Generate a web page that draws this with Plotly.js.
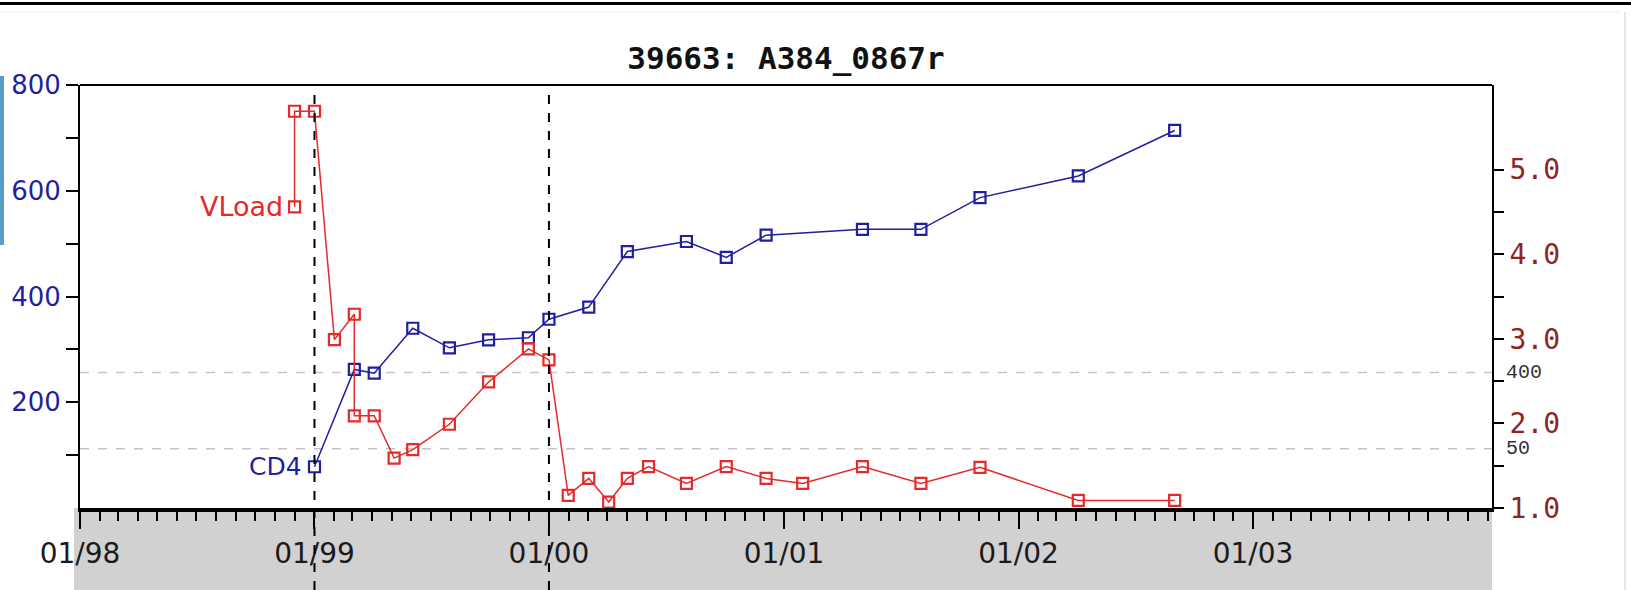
<!DOCTYPE html>
<html>
<head>
<meta charset="utf-8">
<script src="https://cdn.plot.ly/plotly-3.0.1.min.js"></script>
<style>
  html, body { margin: 0; padding: 0; background: #ffffff; }
  #chart { width: 1631px; height: 590px; }
</style>
</head>
<body>
<div id="chart"></div>
<script>
// ---- data ----
const chartTitle = "39663: A384_0867r";

const cd4Dates = ['1999-01-01','1999-03-04','1999-04-04','1999-06-03','1999-07-30','1999-09-29',
  '1999-11-30','2000-01-01','2000-03-03','2000-05-02','2000-08-02','2000-10-03','2000-12-04',
  '2001-05-03','2001-08-02','2001-11-02','2002-04-04','2002-09-01'];
const cd4Values = [78, 262, 255, 340, 303, 318, 322, 357, 380, 485, 504, 474, 516, 527, 527, 587, 628, 714];

const vloadDates = ['1998-12-01','1998-12-01','1999-01-01','1999-02-01','1999-03-04','1999-03-04',
  '1999-04-04','1999-05-05','1999-06-03','1999-07-30','1999-09-29','1999-11-30','2000-01-01',
  '2000-01-31','2000-03-03','2000-04-03','2000-05-02','2000-06-04','2000-08-02','2000-10-03',
  '2000-12-04','2001-01-30','2001-05-03','2001-08-02','2001-11-02','2002-04-04','2002-09-01'];
const vloadLog = [4.56, 5.69, 5.69, 2.99, 3.29, 2.09, 2.09, 1.59, 1.69, 1.99, 2.49, 2.88, 2.75,
  1.15, 1.35, 1.07, 1.35, 1.49, 1.29, 1.49, 1.35, 1.29, 1.49, 1.29, 1.48, 1.09, 1.09];

const markerDates = ['1999-01-01', '2000-01-01'];        // dashed vertical lines
const thresholdCopies = [400, 50];                        // dashed horizontal reference lines (copies/ml)
const thresholdLabels = ['400', '50'];

const yearTickVals = ['1998-01-01','1999-01-01','2000-01-01','2001-01-01','2002-01-01','2003-01-01'];
const yearTickText = ['01/98','01/99','01/00','01/01','01/02','01/03'];

const cd4TickVals = [100, 200, 300, 400, 500, 600, 700, 800];
const cd4TickText = ['', '200', '', '400', '', '600', '', '800'];

const vlTickVals = [1.0, 1.5, 2.0, 2.5, 3.0, 3.5, 4.0, 4.5, 5.0];
const vlTickText = ['1.0', '', '2.0', '', '3.0', '', '4.0', '', '5.0'];

// ---- styles ----
const BLUE = '#1f1fa0';
const RED = '#e42a2a';
const DARKRED = '#8e2424';

const W = 1631, H = 590;
const M = {l: 80, r: 139, t: 85, b: 82};
const PW = W - M.l - M.r, PH = H - M.t - M.b;
const px = v => (v - M.l) / PW;        // page x pixel -> paper
const py = v => (H - M.b - v) / PH;    // page y pixel -> paper

const traces = [
  {
    x: vloadDates, y: vloadLog, yaxis: 'y2', type: 'scatter', mode: 'lines+markers',
    line: {color: RED, width: 1.5},
    marker: {symbol: 'square-open', size: 11, color: RED, line: {width: 2.2, color: RED}},
    hoverinfo: 'x+y', showlegend: false
  },
  {
    x: cd4Dates, y: cd4Values, yaxis: 'y', type: 'scatter', mode: 'lines+markers',
    line: {color: BLUE, width: 1.5},
    marker: {symbol: 'square-open', size: 11, color: BLUE, line: {width: 2.2, color: BLUE}},
    hoverinfo: 'x+y', showlegend: false
  }
];

const shapes = [];
// grey band under the time axis
shapes.push({type: 'rect', xref: 'paper', yref: 'paper', x0: px(74), x1: 1, y0: py(H), y1: 0,
  fillcolor: '#d1d1d1', line: {width: 0}, layer: 'below'});
// threshold lines
thresholdCopies.forEach(c => {
  shapes.push({type: 'line', xref: 'paper', yref: 'y2', x0: 0, x1: 1, y0: Math.log10(c), y1: Math.log10(c),
    line: {color: '#c4c4c4', width: 1.5, dash: 'dash'}, layer: 'below'});
});
// dashed vertical year markers
markerDates.forEach(d => {
  shapes.push({type: 'line', xref: 'x', yref: 'paper', x0: d, x1: d, y0: py(H), y1: 1,
    line: {color: '#000000', width: 2, dash: 'dash'}, layer: 'above'});
});
// top frame line of plot
shapes.push({type: 'line', xref: 'paper', yref: 'paper', x0: 0, x1: 1, y0: 1, y1: 1,
  line: {color: '#000000', width: 2}});
// page decorations: top black rule, left blue strip, right faint rule
shapes.push({type: 'line', xref: 'paper', yref: 'paper', x0: px(0), x1: px(W), y0: py(3.5), y1: py(3.5),
  line: {color: '#000000', width: 3}});
shapes.push({type: 'line', xref: 'paper', yref: 'paper', x0: px(0), x1: px(1620), y0: py(12), y1: py(12),
  line: {color: '#f0f0f0', width: 1}});
shapes.push({type: 'rect', xref: 'paper', yref: 'paper', x0: px(0), x1: px(4), y0: py(245), y1: py(76),
  fillcolor: '#5b9bc8', line: {width: 0}});
shapes.push({type: 'line', xref: 'paper', yref: 'paper', x0: px(1625), x1: px(1625), y0: py(H), y1: py(12),
  line: {color: '#e6e6e6', width: 2}});

const annotations = [
  {x: vloadDates[0], y: vloadLog[0], xref: 'x', yref: 'y2', text: 'VLoad', showarrow: false,
   xanchor: 'right', yanchor: 'middle', xshift: -10,
   font: {family: 'DejaVu Sans', size: 27, color: RED}},
  {x: cd4Dates[0], y: cd4Values[0], xref: 'x', yref: 'y', text: 'CD4', showarrow: false,
   xanchor: 'right', yanchor: 'middle', xshift: -10,
   font: {family: 'DejaVu Sans', size: 25, color: BLUE}}
];
thresholdCopies.forEach((c, i) => {
  annotations.push({x: 1, y: Math.log10(c), xref: 'paper', yref: 'y2', text: thresholdLabels[i],
    showarrow: false, xanchor: 'left', yanchor: 'middle', xshift: 12,
    font: {family: 'Liberation Mono', size: 20, color: '#333333'}});
});

const layout = {
  width: W, height: H,
  margin: M,
  paper_bgcolor: '#ffffff', plot_bgcolor: '#ffffff',
  showlegend: false,
  title: {text: '<b>' + chartTitle + '</b>', x: 0.5, xref: 'paper', xanchor: 'center',
    y: 1 - 58 / H, yref: 'container', yanchor: 'middle',
    font: {family: 'DejaVu Sans Mono', size: 31, color: '#111111'}},
  xaxis: {
    type: 'date', range: ['1998-01-01', '2004-01-08'],
    tickmode: 'array', tickvals: yearTickVals, ticktext: yearTickText,
    ticks: 'outside', ticklen: 17, tickwidth: 2, tickcolor: '#000000',
    minor: {dtick: 'M1', tick0: '1998-01-01', ticks: 'outside', ticklen: 9, tickwidth: 2, tickcolor: '#000000', showgrid: false},
    ticklabelstandoff: 0,
    showline: true, linecolor: '#000000', linewidth: 4,
    showgrid: false, zeroline: false,
    tickfont: {family: 'DejaVu Sans', size: 28, color: '#1a1a1a'}
  },
  yaxis: {
    range: [0, 800], tickmode: 'array', tickvals: cd4TickVals, ticktext: cd4TickText,
    ticks: 'outside', ticklen: 12, tickwidth: 2, tickcolor: '#000000',
    showline: true, linecolor: '#000000', linewidth: 2,
    showgrid: false, zeroline: false,
    tickfont: {family: 'DejaVu Sans', size: 26, color: BLUE}
  },
  yaxis2: {
    overlaying: 'y', side: 'right', range: [1, 6],
    tickmode: 'array', tickvals: vlTickVals, ticktext: vlTickText,
    ticks: 'outside', ticklen: 10, tickwidth: 2, tickcolor: '#000000',
    showline: true, linecolor: '#000000', linewidth: 2,
    showgrid: false, zeroline: false,
    tickfont: {family: 'DejaVu Sans Mono', size: 28, color: DARKRED}
  },
  shapes: shapes,
  annotations: annotations
};

Plotly.newPlot('chart', traces, layout, {displayModeBar: false, staticPlot: true});
</script>
</body>
</html>
